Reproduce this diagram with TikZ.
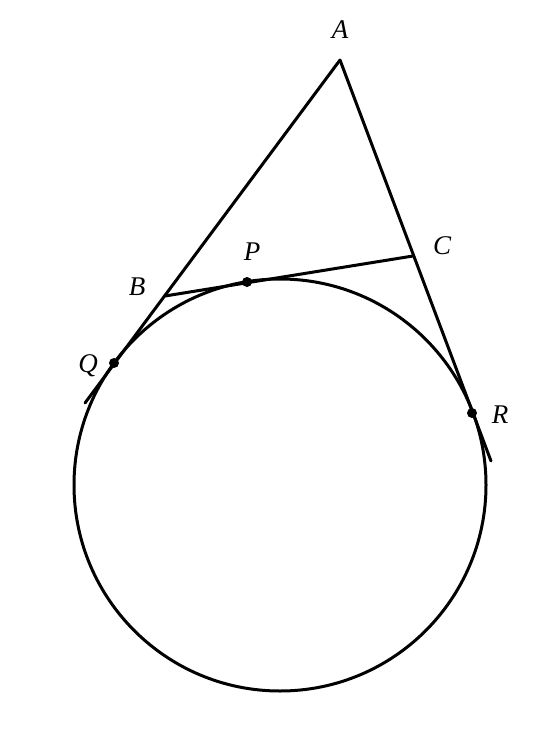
\documentclass[tikz,border=0pt]{standalone}
\usepackage{fontspec}
\setmainfont{Liberation Serif}
\begin{document}
\begin{tikzpicture}[x=1pt,y=-1pt,
  geo/.style={line width=3pt, line cap=round},
  dotpt/.style={circle, fill=black, inner sep=0pt, minimum size=10pt},
  lbl/.style={font=\fontsize{27}{31}\selectfont\itshape, inner sep=0pt}]
\useasboundingbox (0,0) rectangle (550,730);
\coordinate (O) at (280,485);
\coordinate (A) at (340,60);
\coordinate (B) at (165,296);
\coordinate (C) at (413,256);
\coordinate (Qe) at (85,403);
\coordinate (Re) at (491,461);
\draw[geo] (O) circle (206);
\draw[geo] (A) -- (Qe);
\draw[geo] (A) -- (Re);
\draw[geo] (B) -- (C);
\node[dotpt] (Q) at (114,363) {};
\node[dotpt] (R) at (472,413) {};
\node[dotpt] (P) at (247,282) {};
\node[lbl] (lA) at (340,30) {A};
\node[lbl] (lB) at (137,287) {B};
\node[lbl] (lC) at (442,246) {C};
\node[lbl] (lP) at (252,252) {P};
\node[lbl] (lQ) at (88,366) {Q};
\node[lbl] (lR) at (500,415) {R};
\end{tikzpicture}
\end{document}
